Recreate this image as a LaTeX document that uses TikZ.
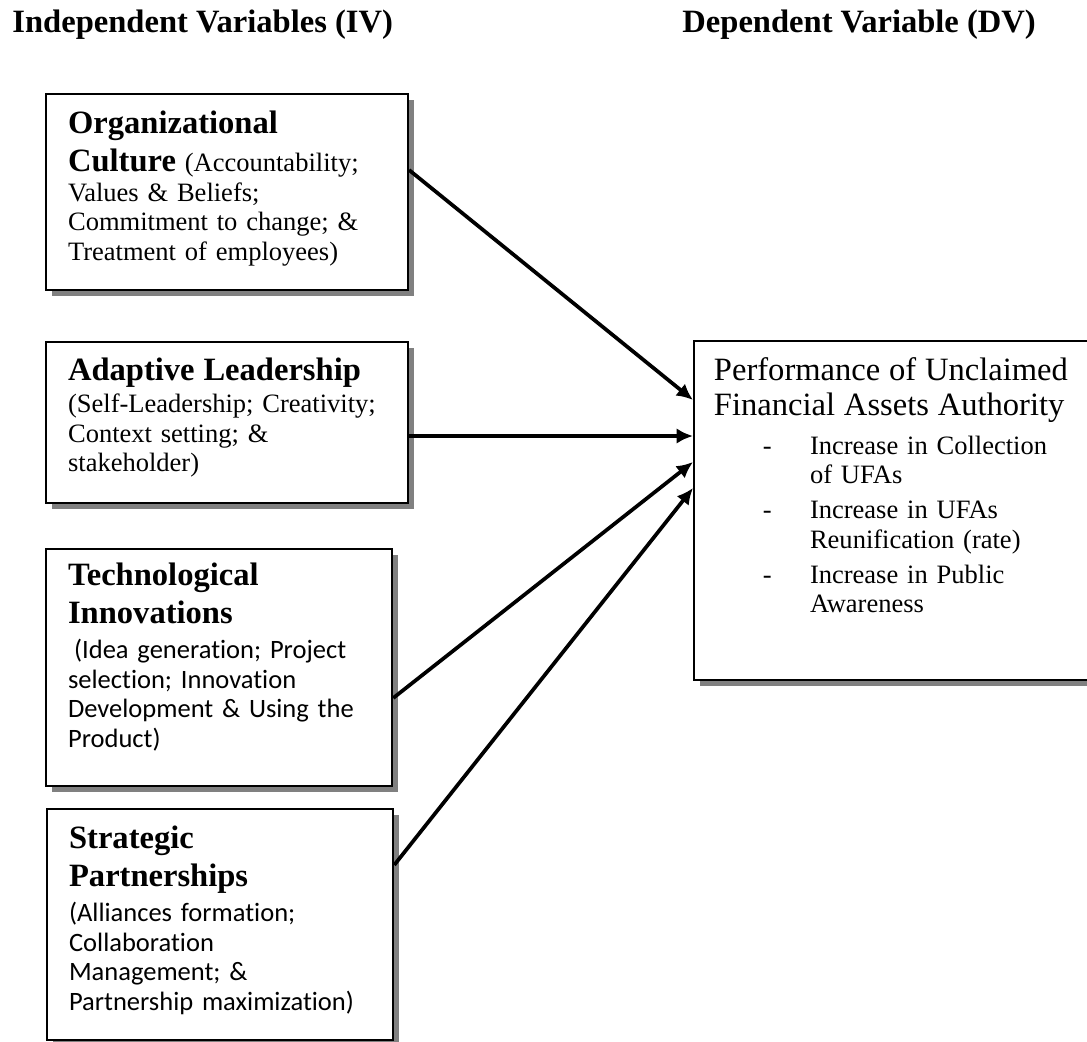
\documentclass[tikz,border=0pt]{standalone}
\usepackage{fontspec}
\setmainfont{Liberation Serif}
\newfontfamily\calibri[Ligatures=NoCommon]{Carlito}
\usetikzlibrary{arrows.meta,calc,shadows}
\newcommand{\vartitle}[1]{{\fontsize{14pt}{15pt}\selectfont\bfseries #1}}
\newcommand{\dvitem}[2]{\makebox[41.3pt][l]{\hspace{21pt}-}#1\\\hspace*{41.3pt}#2}
\tikzset{%
  font=\fontsize{11.4pt}{12.7pt}\selectfont,
  ivbox/.style={draw,line width=0.85pt,fill=white,anchor=north west,align=left,
    inner xsep=9.5pt,inner ysep=3.4pt,
    drop shadow={shadow xshift=2.6pt,shadow yshift=-2.6pt,fill=black!50,opacity=1}},
  dvbox/.style={ivbox,inner xsep=8.6pt},
  head/.style={anchor=base west,inner sep=0pt,font=\fontsize{14pt}{15pt}\selectfont\bfseries},
  link/.style={line width=1.6pt,-{Latex[length=7pt,width=6.6pt]}}
}

\begin{document}
\begin{tikzpicture}[x=0.43pt,y=0.43pt]
	\useasboundingbox (0,0) rectangle (1087,-1042);
	
	\node[head] (ivhead) at (12,-32) {Independent Variables (IV)};
	\node[head] (dvhead) at (682,-32) {Dependent Variable (DV)};
	
	% independent variables
	\node[ivbox,text width=136.7pt,text height=13.8pt,text depth=63.6pt] (oc) at (45,-93)
	{\vartitle{Organizational}\\[2.4pt]
	 \vartitle{Culture} (Accountability;\\ Values \& Beliefs;\\
	 Commitment to change; \&\\ Treatment of employees)};
	\node[ivbox,text width=136.7pt,text height=13.3pt,text depth=49pt] (al) at (45,-341)
	{\vartitle{Adaptive Leadership}\\[1.1pt]
	 (Self-Leadership; Creativity;\\ Context setting; \&\\ stakeholder)};
	\node[ivbox,text width=129.9pt,text height=12.5pt,text depth=82.6pt] (ti) at (45,-548)
	{\vartitle{Technological}\\[2.4pt] \vartitle{Innovations}\\[2.4pt]
	 \calibri\hspace*{2.6pt}(Idea generation; Project\\ selection; Innovation\\
	 Development \& Using the\\ Product)};
	\node[ivbox,text width=129.9pt,text height=13.8pt,text depth=78.7pt] (sp) at (46,-808)
	{\vartitle{Strategic}\\[2.4pt] \vartitle{Partnerships}\\[2.4pt]
	 \calibri (Alliances formation;\\ Collaboration\\ Management; \&\\
	 Partnership maximization)};
	
	% dependent variable
	\node[dvbox,text width=160pt,text height=13.8pt,text depth=125.1pt] (dv) at (693,-340)
	{{\fontsize{14pt}{15pt}\selectfont Performance of Unclaimed\\[2.3pt]
	  Financial Assets Authority}\\[3.7pt]
	 \dvitem{Increase in Collection}{of UFAs}\\[2.4pt]
	 \dvitem{Increase in UFAs}{Reunification (rate)}\\[2.4pt]
	 \dvitem{Increase in Public}{Awareness}};
	
	\draw[link] ($(oc.north east)+(0,-77)$) -- ($(dv.north west)+(0,-60)$);
	\draw[link] ($(al.north east)+(0,-95)$) -- ($(dv.north west)+(0,-96)$);
	\draw[link] ($(ti.north east)+(0,-150)$) -- ($(dv.north west)+(0,-122)$);
	\draw[link] ($(sp.north east)+(0,-57)$) -- ($(dv.north west)+(0,-148)$);
\end{tikzpicture}
\end{document}
